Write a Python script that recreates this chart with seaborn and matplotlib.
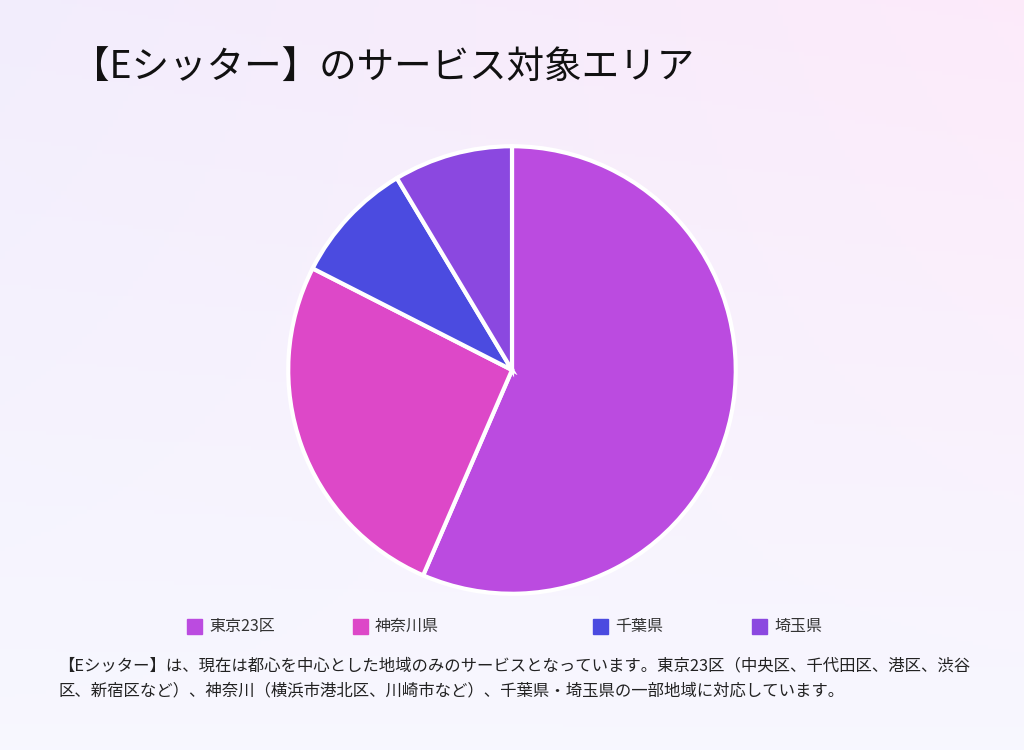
import numpy as np
import matplotlib.pyplot as plt
import matplotlib.patches as mpatches
import seaborn as sns

# data
areas = ['東京23区', '神奈川県', '千葉県', '埼玉県']
shares = [56.5, 26.0, 8.9, 8.6]
colors = ['#BB4BE0', '#DD48C8', '#4B4BE0', '#8B48E0']

title = '【Eシッター】のサービス対象エリア'
note = ('【Eシッター】は、現在は都心を中心とした地域のみのサービスとなっています。東京23区（中央区、千代田区、港区、渋谷\n'
        '区、新宿区など）、神奈川（横浜市港北区、川崎市など）、千葉県・埼玉県の一部地域に対応しています。')

sns.set_theme(style='white')
plt.rcParams['font.family'] = 'Noto Sans CJK JP'

W, H = 1024, 750
fig = plt.figure(figsize=(W / 100, H / 100), dpi=100)

# soft gradient background: pinkish/lavender at top, near white at bottom
bg = fig.add_axes([0, 0, 1, 1])
yy, xx = np.mgrid[0:1:200j, 0:1:200j]
pink = np.array([0.99, 0.92, 0.98])
lav = np.array([0.95, 0.93, 0.99])
white = np.array([0.97, 0.97, 1.0])
top = pink * xx[..., None] + lav * (1 - xx[..., None])
t = yy[..., None]  # 0 at top row (origin upper)
img = np.clip(top * (1 - t) + white * t, 0, 1)
bg.imshow(img, extent=[0, 1, 0, 1], aspect='auto', origin='upper')
bg.axis('off')

r = 226
ax = fig.add_axes([(512 - r) / W, (H - 370 - r) / H, 2 * r / W, 2 * r / H])
ax.pie(shares, colors=colors, startangle=90, counterclock=False,
       wedgeprops=dict(edgecolor='white', linewidth=3))
ax.set_xlim(-1.01, 1.01)
ax.set_ylim(-1.01, 1.01)
ax.set_aspect('equal')
ax.axis('off')

fig.text(72 / W, 1 - 68 / H, title, fontsize=27, color='#111111', va='center')

# legend
xs = [187, 353, 593, 752]
for x, name, c in zip(xs, areas, colors):
    fig.patches.append(mpatches.Rectangle((x / W, (H - 634) / H), 15 / W, 15 / H,
                                          transform=fig.transFigure, color=c))
    fig.text((x + 22) / W, 1 - 626 / H, name, fontsize=11.5, va='center', color='#333333')

fig.text(58 / W, 1 - 678 / H, note, fontsize=11.8, va='center', color='#222222', linespacing=1.6)

fig.savefig('out.png', dpi=100)
